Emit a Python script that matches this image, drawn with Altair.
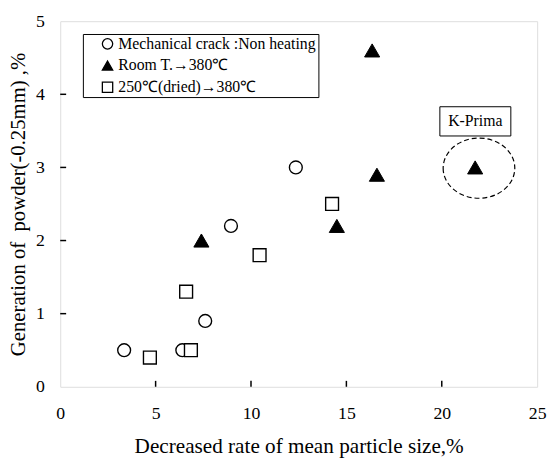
import altair as alt
import pandas as pd

# Data
series_names = ["Mechanical crack :Non heating", "Room T.\u2192380\u2103", "250\u2103(dried)\u2192380\u2103"]
circle_x = [3.35, 6.4, 7.6, 8.95, 12.35]
circle_y = [0.5, 0.5, 0.9, 2.2, 3.0]
tri_x = [7.4, 14.5, 16.35, 16.6, 21.75]
tri_y = [2.0, 2.2, 4.6, 2.9, 3.0]
sq_x = [4.7, 6.85, 6.6, 10.45, 14.25]
sq_y = [0.4, 0.5, 1.3, 1.8, 2.5]

x_ticks = [0, 5, 10, 15, 20, 25]
y_ticks = [0, 1, 2, 3, 4, 5]
x_inner_ticks = [5, 10, 15, 20]
y_inner_ticks = [1, 2, 3, 4]

# annotation: K-Prima label box and dashed ellipse
kprima_label = ["K-Prima"]
kprima_box_x = [19.9]
kprima_box_x2 = [23.62]
kprima_box_y = [3.43]
kprima_box_y2 = [3.83]
kprima_text_x = [21.76]
kprima_text_y = [3.63]
ellipse_x = [21.95]
ellipse_y = [2.99]

W, H = 484, 371
FONT = "Liberation Serif"

rows = []
for xs, ys, name in [(circle_x, circle_y, series_names[0]), (tri_x, tri_y, series_names[1]), (sq_x, sq_y, series_names[2])]:
    for a, b in zip(xs, ys):
        rows.append({"x": a, "y": b, "series": name})
df = pd.DataFrame(rows)

xscale = alt.Scale(domain=[0, 25], nice=False, zero=False)
yscale = alt.Scale(domain=[0, 5], nice=False, zero=False)

xaxis = alt.Axis(values=x_ticks, grid=False, ticks=False, domain=False, labelFont=FONT, labelFontSize=18,
                 labelColor="black", labelPadding=18, labelFlush=False, labelOverlap=False,
                 title="Decreased rate of mean particle size,%", titleFont=FONT, titleFontSize=21.5,
                 titleFontWeight="normal", titleColor="black", titlePadding=14, format="d")
yaxis = alt.Axis(values=y_ticks, grid=False, ticks=False, domain=False, labelFont=FONT, labelFontSize=18,
                 labelColor="black", labelPadding=16, labelFlush=False, labelOverlap=False,
                 title="Generation of\u00a0 powder(-0.25mm) ,%", titleFont=FONT, titleFontSize=21,
                 titleFontWeight="normal", titleColor="black", titlePadding=7, format="d")

legend = alt.Legend(title=None, orient="none", legendX=23, legendY=13, strokeColor="black", fillColor="white",
                    padding=2, labelFont=FONT, labelFontSize=16, labelColor="black", symbolSize=110,
                    symbolStrokeColor="black", symbolStrokeWidth=1.3, rowPadding=6, labelOffset=3,
                    symbolOffset=15, labelLimit=400)

enc = dict(
    x=alt.X("x:Q", scale=xscale, axis=xaxis),
    y=alt.Y("y:Q", scale=yscale, axis=yaxis),
    shape=alt.Shape("series:N", scale=alt.Scale(domain=series_names, range=["circle", "triangle-up", "square"]), legend=legend),
    fill=alt.Fill("series:N", scale=alt.Scale(domain=series_names, range=["white", "black", "white"]), legend=legend),
    stroke=alt.Stroke("series:N", scale=alt.Scale(domain=series_names, range=["black", "black", "black"]), legend=legend),
)

open_pts = alt.Chart(df).transform_filter(
    alt.datum.series != series_names[1]
).mark_point(filled=True, opacity=1, strokeWidth=1.4, size=170).encode(**enc)
tri_pts = alt.Chart(df).transform_filter(
    alt.datum.series == series_names[1]
).mark_point(filled=True, opacity=1, strokeWidth=1.0, size=235).encode(**enc)

xt = alt.Chart(pd.DataFrame({"v": x_inner_ticks})).mark_rule(color="black", strokeWidth=1.5).encode(
    x=alt.X("v:Q", scale=xscale), y=alt.value(H), y2=alt.value(H - 6))
yt = alt.Chart(pd.DataFrame({"v": y_inner_ticks})).mark_rule(color="black", strokeWidth=1.5).encode(
    y=alt.Y("v:Q", scale=yscale), x=alt.value(0), x2=alt.value(6))

ann_df = pd.DataFrame({"bx": kprima_box_x, "bx2": kprima_box_x2, "by": kprima_box_y, "by2": kprima_box_y2,
                       "tx": kprima_text_x, "ty": kprima_text_y, "label": kprima_label,
                       "ex": ellipse_x, "ey": ellipse_y})
box = alt.Chart(ann_df).mark_rect(fill="white", stroke="black", strokeWidth=1).encode(
    x=alt.X("bx:Q", scale=xscale), x2="bx2:Q", y=alt.Y("by:Q", scale=yscale), y2="by2:Q")
txt = alt.Chart(ann_df).mark_text(font=FONT, fontSize=16, color="black").encode(
    x=alt.X("tx:Q", scale=xscale), y=alt.Y("ty:Q", scale=yscale), text="label:N")
ell = alt.Chart(ann_df).mark_point(
    shape="M -1 0 A 1 0.84 0 1 0 1 0 A 1 0.84 0 1 0 -1 0 Z", size=5285, filled=False, stroke="black",
    strokeWidth=1.2, strokeDash=[5, 3], opacity=1).encode(
    x=alt.X("ex:Q", scale=xscale), y=alt.Y("ey:Q", scale=yscale))

chart = alt.layer(ell, box, txt, xt, yt, open_pts, tri_pts).properties(
    width=W, height=H, autosize=alt.AutoSizeParams(type="none"),
    padding={"left": 53, "top": 10, "right": 11, "bottom": 76}
).configure_view(stroke="black", strokeWidth=2).configure(background="white")

chart.save("out.html", embed_options={"renderer": "svg", "actions": False})
